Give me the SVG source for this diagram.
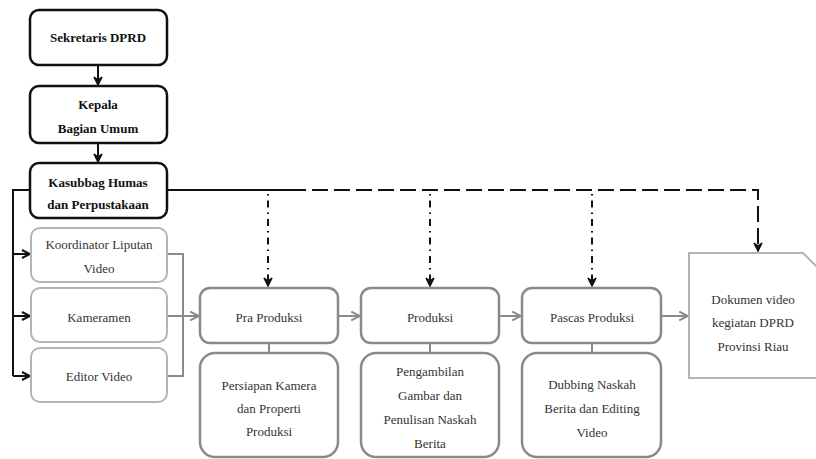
<svg xmlns="http://www.w3.org/2000/svg" width="816" height="459" viewBox="0 0 816 459">
<defs>
<style>
.bk{fill:#fff;stroke:#111;stroke-width:2.5}
.lg{fill:#fff;stroke:#b4b4b4;stroke-width:2}
.dg{fill:#fff;stroke:#8a8a8a;stroke-width:2.5}
.tb{font-weight:bold;fill:#111}
.tr{fill:#333}
.cb{fill:none;stroke:#111;stroke-width:2}
.cg{fill:none;stroke:#8a8a8a;stroke-width:2}
</style>
<marker id="ab" viewBox="0 0 10 10" refX="9" refY="5" markerWidth="5" markerHeight="5" orient="auto"><path d="M1,1 L9,5 L1,9" fill="none" stroke="#111" stroke-width="2"/></marker>
<marker id="abf" viewBox="0 0 10 10" refX="9" refY="5" markerWidth="5" markerHeight="5" orient="auto"><path d="M1,1 L9,5 L1,9 L4,5 Z" fill="#111" stroke="#111" stroke-width="1.5"/></marker>
<marker id="ag" viewBox="0 0 10 10" refX="9" refY="5" markerWidth="5.5" markerHeight="5.5" orient="auto"><path d="M1,1 L9,5 L1,9" fill="none" stroke="#8a8a8a" stroke-width="1.8"/></marker>
</defs>

<g id="connectors">
<line class="cb" x1="98" y1="65" x2="98" y2="85" marker-end="url(#abf)"/>
<line class="cb" x1="98" y1="143" x2="98" y2="162" marker-end="url(#abf)"/>
<polyline class="cb" points="30,190 13,190 13,376"/>
<line class="cb" x1="13" y1="254" x2="30" y2="254" marker-end="url(#ab)"/>
<line class="cb" x1="13" y1="316" x2="30" y2="316" marker-end="url(#ab)"/>
<line class="cb" x1="13" y1="376" x2="30" y2="376" marker-end="url(#ab)"/>
<polyline class="cg" points="167,254 183,254 183,376 167,376"/>
<line class="cg" x1="167" y1="316" x2="199" y2="316" marker-end="url(#ag)"/>
<line class="cg" x1="338" y1="316" x2="360" y2="316" marker-end="url(#ag)"/>
<line class="cg" x1="499" y1="316" x2="521" y2="316" marker-end="url(#ag)"/>
<line class="cg" x1="661" y1="316" x2="688" y2="316" marker-end="url(#ag)"/>
<line class="cg" x1="269" y1="343" x2="269" y2="353"/>
<line class="cg" x1="430" y1="343" x2="430" y2="353"/>
<line class="cg" x1="592" y1="343" x2="592" y2="353"/>
<line class="cb" x1="167" y1="190" x2="290" y2="190" stroke-width="2.5"/>
<polyline class="cb" points="290,190 758,190 758,251" stroke-width="2.5" stroke-dasharray="16,6" marker-end="url(#abf)"/>
<line class="cb" x1="268" y1="194" x2="268" y2="286" stroke-dasharray="1.5,5,7,5" marker-end="url(#abf)"/>
<line class="cb" x1="430" y1="194" x2="430" y2="286" stroke-dasharray="1.5,5,7,5" marker-end="url(#abf)"/>
<line class="cb" x1="592" y1="194" x2="592" y2="286" stroke-dasharray="1.5,5,7,5" marker-end="url(#abf)"/>
</g>

<g font-family="Liberation Serif, DejaVu Serif, serif" font-size="13" text-anchor="middle">
<g id="sekretaris"><rect class="bk" x="30" y="10" width="137" height="55" rx="9"/><text class="tb" x="98" y="42">Sekretaris DPRD</text></g>
<g id="kepala"><rect class="bk" x="30" y="86" width="137" height="57" rx="9"/><text class="tb" x="98" y="109">Kepala</text><text class="tb" x="98" y="133">Bagian Umum</text></g>
<g id="kasubbag"><rect class="bk" x="30" y="163" width="137" height="55" rx="9"/><text class="tb" x="98" y="187">Kasubbag Humas</text><text class="tb" x="98" y="209">dan Perpustakaan</text></g>

<g id="koordinator"><rect class="lg" x="31" y="228" width="136" height="54" rx="9"/><text class="tr" x="99" y="249">Koordinator Liputan</text><text class="tr" x="99" y="273">Video</text></g>
<g id="kameramen"><rect class="lg" x="31" y="288" width="136" height="54" rx="9"/><text class="tr" x="99" y="322">Kameramen</text></g>
<g id="editor"><rect class="lg" x="31" y="348" width="136" height="54" rx="9"/><text class="tr" x="99" y="381">Editor Video</text></g>

<g id="praproduksi"><rect class="dg" x="200" y="288" width="138" height="55" rx="10"/><text class="tr" x="269" y="322">Pra Produksi</text></g>
<g id="produksi"><rect class="dg" x="361" y="288" width="138" height="55" rx="10"/><text class="tr" x="430" y="322">Produksi</text></g>
<g id="pascaproduksi"><rect class="dg" x="522" y="288" width="139" height="55" rx="10"/><text class="tr" x="592" y="322">Pascas Produksi</text></g>

<g id="persiapan"><rect class="dg" x="200" y="353" width="138" height="104" rx="15"/><text class="tr" x="269" y="390">Persiapan Kamera</text><text class="tr" x="269" y="413">dan Properti</text><text class="tr" x="269" y="436">Produksi</text></g>
<g id="pengambilan"><rect class="dg" x="361" y="353" width="138" height="104" rx="15"/><text class="tr" x="430" y="376">Pengambilan</text><text class="tr" x="430" y="400">Gambar dan</text><text class="tr" x="430" y="424">Penulisan Naskah</text><text class="tr" x="430" y="448">Berita</text></g>
<g id="dubbing"><rect class="dg" x="522" y="353" width="139" height="104" rx="15"/><text class="tr" x="592" y="389">Dubbing Naskah</text><text class="tr" x="592" y="413">Berita dan Editing</text><text class="tr" x="592" y="437">Video</text></g>

<g id="dokumen"><path class="lg" d="M689,253 H803 L830,280 V378 H689 Z"/><text class="tr" x="753" y="304">Dokumen video</text><text class="tr" x="753" y="327">kegiatan DPRD</text><text class="tr" x="753" y="351">Provinsi Riau</text></g>
</g>
</svg>
